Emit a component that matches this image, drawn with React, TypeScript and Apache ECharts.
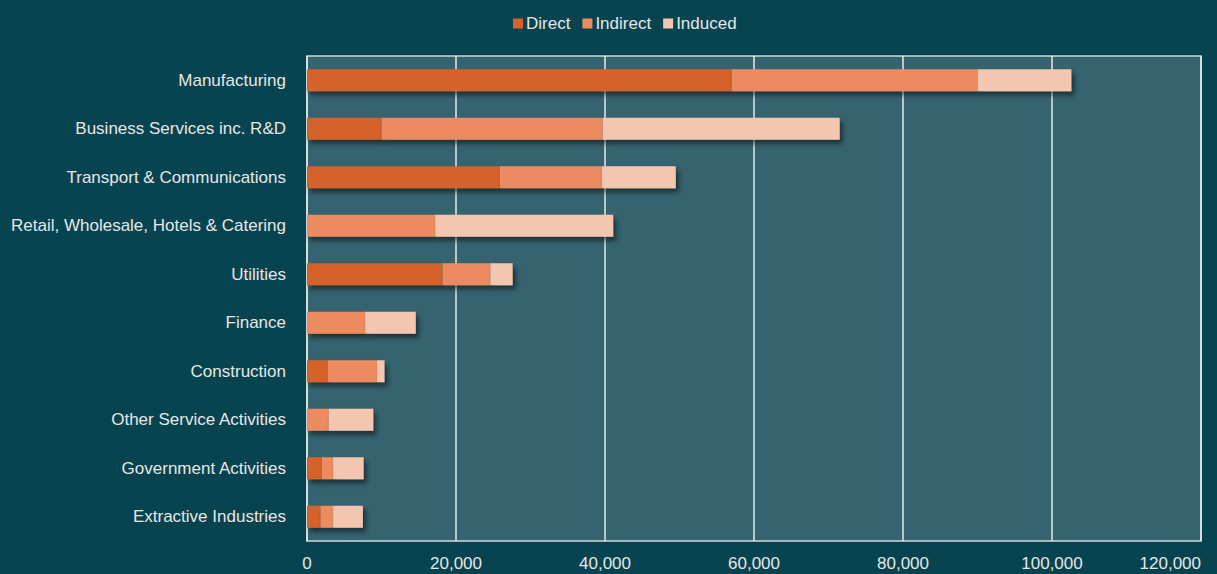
import React, { useEffect, useRef } from "react";
import * as echarts from "echarts";

const categories = [
  "Manufacturing",
  "Business Services inc. R&D",
  "Transport & Communications",
  "Retail, Wholesale, Hotels & Catering",
  "Utilities",
  "Finance",
  "Construction",
  "Other Service Activities",
  "Government Activities",
  "Extractive Industries",
];
const direct = [57000, 10000, 25900, 0, 18200, 0, 2800, 0, 2000, 1800];
const indirect = [33000, 29700, 13700, 17200, 6400, 7800, 6600, 2900, 1500, 1700];
const induced = [12600, 31800, 9900, 23900, 3000, 6800, 1000, 6000, 4100, 4000];
const xTicks = [0, 20000, 40000, 60000, 80000, 100000, 120000];

const seriesNames = ["Direct", "Indirect", "Induced"];
const seriesColors = ["#d5622b", "#ec8b5f", "#f5c6af"];

export default function App() {
  const ref = useRef<HTMLDivElement>(null);
  useEffect(() => {
    document.body.style.margin = "0";
    if (!ref.current) return;
    const chart = echarts.init(ref.current, undefined, { renderer: "svg" });
    const dataSets = [direct, indirect, induced];
    chart.setOption({
      animation: false,
      backgroundColor: "#08444f",
      textStyle: { fontFamily: "Liberation Sans, Arial, sans-serif" },
      legend: {
        top: 10,
        left: 508,
        itemWidth: 10,
        itemHeight: 10,
        itemGap: 12,
        icon: "rect",
        textStyle: { color: "#e6e6e6", fontSize: 17, padding: [0, 0, 0, -2] },
        data: seriesNames,
      },
      grid: {
        left: 307,
        right: 16,
        top: 56,
        bottom: 33,
        outerBoundsMode: "none",
        containLabel: false,
        show: true,
        backgroundColor: "#35636f",
        borderColor: "#cfd8da",
        borderWidth: 1.5,
      },
      xAxis: {
        type: "value",
        min: xTicks[0],
        max: xTicks[xTicks.length - 1],
        interval: 20000,
        axisLine: { show: false },
        axisTick: { show: false },
        splitLine: { show: true, lineStyle: { color: "#e4eaeb", width: 1.5 } },
        axisLabel: {
          color: "#e6e6e6",
          fontSize: 17,
          margin: 14,
          alignMaxLabel: "right",
          formatter: (v: number) => v.toLocaleString("en-US"),
        },
      },
      yAxis: {
        type: "category",
        inverse: true,
        data: categories,
        axisLine: { show: false },
        axisTick: { show: false },
        axisLabel: { color: "#e6e6e6", fontSize: 17, margin: 21 },
      },
      series: seriesNames.map((name, i) => ({
        name,
        type: "bar",
        stack: "total",
        barWidth: 22,
        data: dataSets[i],
        itemStyle: {
          color: seriesColors[i],
          shadowColor: "rgba(0,0,0,0.5)",
          shadowBlur: 5,
          shadowOffsetX: 3,
          shadowOffsetY: 4,
        },
      })),
    });
    return () => chart.dispose();
  }, []);
  return <div ref={ref} style={{ width: 1217, height: 574 }} />;
}
